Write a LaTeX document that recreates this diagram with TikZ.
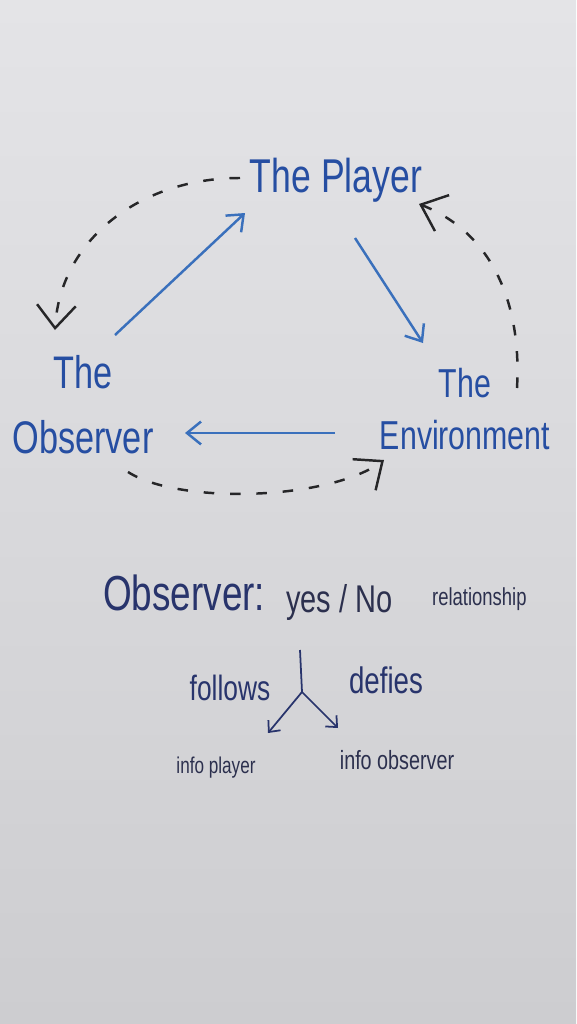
\documentclass[tikz,border=0pt]{standalone}
\usepackage{fontspec}
\setmainfont{Liberation Sans}[FakeStretch=0.75]
\usetikzlibrary{arrows.meta}
\definecolor{board}{RGB}{228,228,231}
\definecolor{boardlow}{RGB}{205,205,208}
\definecolor{pen}{RGB}{38,78,162}
\definecolor{penarrow}{RGB}{58,112,188}
\definecolor{ink}{RGB}{38,38,40}
\definecolor{navy}{RGB}{40,52,108}
\definecolor{dark}{RGB}{44,48,78}

\begin{document}
\begin{tikzpicture}[x=0.02cm,y=-0.02cm,
	word/.style={text=pen,inner sep=1pt,align=center},
	flow/.style={penarrow,line width=1.4pt,-{Straight Barb[length=8pt,width=13pt]}},
	back/.style={ink,line width=1.4pt,dash pattern=on 6pt off 9pt,-{Straight Barb[length=13pt,width=22pt]}},
	fork/.style={navy,line width=1pt}]
	\shade[top color=board,bottom color=boardlow](0,0)rectangle(576,1024);
	\useasboundingbox(0,0)rectangle(576,1024);
	\node[word,font=\fontsize{27}{30}\selectfont](player)at(336,180){The Player};
	\node[word,font=\fontsize{26}{37}\selectfont](obs)at(83,405){The\\Observer};
	\node[word,font=\fontsize{23}{30}\selectfont](env)at(465,409){The\\Environment};
	\draw[flow]([shift={(32,-70)}]obs.center)--([shift={(-91,33)}]player.center);
	\draw[flow]([shift={(19,58)}]player.center)--([shift={(-42,-66)}]env.center);
	\draw[flow]([shift={(-130,24)}]env.center)--([shift={(102,28)}]obs.center);
	% dashed feedback loops
	\draw[back]([shift={(-96,-2)}]player.center)..controls(140,178)and(60,240)..([shift={(-28,-75)}]obs.center);
	\draw[back]([shift={(52,-21)}]env.center)..controls(522,300)and(490,232)..([shift={(83,24)}]player.center);
	\draw[back]([shift={(45,67)}]obs.center)..controls(180,505)and(330,500)..([shift={(-81,51)}]env.center);
	\node[anchor=base west,text=navy,font=\fontsize{28}{30}\selectfont](head)at(97,610){Observer:};
	\node[anchor=base west,text=dark,font=\fontsize{22}{24}\selectfont](yesno)at(280,612){yes / No};
	\node[anchor=base west,text=dark,font=\fontsize{14}{16}\selectfont](rel)at(426,605){relationship};
	\node[text=navy,font=\fontsize{20}{22}\selectfont](follows)at(230,688){follows};
	\node[text=navy,font=\fontsize{21}{23}\selectfont](defies)at(386,680){defies};
	\node[text=dark,font=\fontsize{13}{15}\selectfont](infop)at(216,768){info player};
	\node[text=dark,font=\fontsize{15}{17}\selectfont](infoo)at(397,760){info observer};
	\coordinate(top)at(300,650);
	\coordinate(split)at(302,692);
	\draw[fork](top)--(split);
	\draw[fork,-{Straight Barb[length=5pt,width=9pt]}](split)--([shift={(52,-35)}]infop.center);
	\draw[fork,-{Straight Barb[length=5pt,width=9pt]}](split)--([shift={(-59,-32)}]infoo.center);
\end{tikzpicture}
\end{document}
